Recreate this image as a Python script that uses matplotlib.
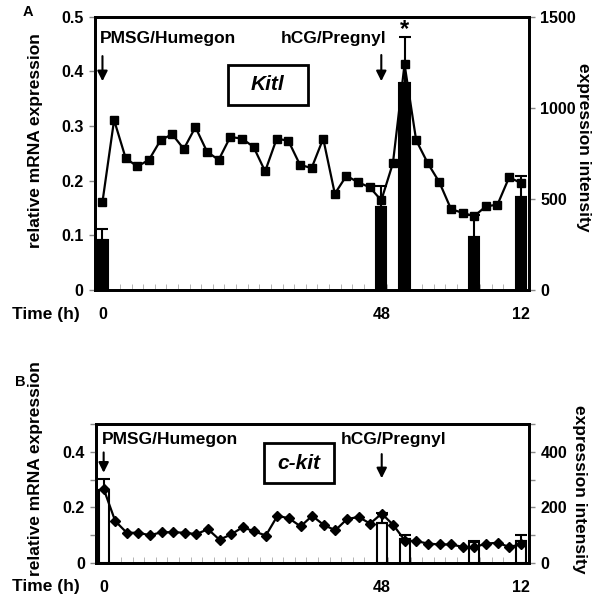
import numpy as np
import matplotlib
matplotlib.use('Agg')
import matplotlib.pyplot as plt
from matplotlib.patches import Rectangle

plt.rcParams['font.family'] = ['Liberation Sans', 'DejaVu Sans']
plt.rcParams['font.weight'] = 'bold'

# 37 sampling points: every 2 h up to 48 h (PMSG), then hourly for 12 h (hCG)
n_points = 37
tick_pos = [0, 24, 36]
tick_labels = ['0', '48', '12']

# panel A, Kitl
kitl_rel = [0.161, 0.311, 0.241, 0.226, 0.238, 0.274, 0.285, 0.258, 0.298, 0.253,
            0.238, 0.280, 0.277, 0.262, 0.217, 0.277, 0.273, 0.229, 0.223, 0.277,
            0.176, 0.209, 0.197, 0.188, 0.164, 0.232, 0.413, 0.274, 0.232, 0.197,
            0.148, 0.141, 0.135, 0.153, 0.156, 0.206, 0.196]
kitl_bar_idx = [0, 24, 26, 32, 36]
kitl_bar_val = [272, 456, 1135, 290, 508]
kitl_bar_err = [60, 112, 256, 120, 118]

# panel B, c-kit
ckit_rel = [0.267, 0.151, 0.109, 0.109, 0.100, 0.111, 0.111, 0.109, 0.104, 0.122,
            0.084, 0.103, 0.129, 0.114, 0.099, 0.170, 0.161, 0.132, 0.170, 0.137,
            0.118, 0.158, 0.166, 0.142, 0.178, 0.137, 0.081, 0.079, 0.070, 0.067,
            0.067, 0.058, 0.057, 0.070, 0.073, 0.058, 0.067]
ckit_bar_idx = [0, 24, 26, 32, 36]
ckit_bar_val = [264, 145, 85, 76, 81]
ckit_bar_err = [38, 35, 16, 4, 20]

x = np.arange(n_points)

fig = plt.figure(figsize=(6.0, 5.99), dpi=100)
TICK_FS = 11.5
LAB_FS = 12.5


def make_panel(rect, rel, bar_idx, bar_val, bar_err, filled, marker, ms,
               rticks, rlabels, lticks, llabels):
    ax2 = fig.add_axes(rect)           # right axis, bars (behind)
    ax = ax2.twinx()                   # line on top
    ax.yaxis.tick_left()
    ax2.yaxis.tick_right()
    ax.patch.set_visible(False)

    fc = 'black' if filled else 'white'
    ax2.bar(bar_idx, bar_val, width=0.88, color=fc, edgecolor='black', linewidth=1.5,
            zorder=2)
    ax2.errorbar(bar_idx, bar_val, yerr=[np.zeros(len(bar_err)), bar_err], fmt='none',
                 ecolor='black', elinewidth=1.5, capsize=4, capthick=1.5, zorder=3)
    ax.plot(x, rel, color='black', lw=1.6, marker=marker, ms=ms, mfc='black',
            mec='black', zorder=4)

    for a in (ax, ax2):
        a.set_xlim(-0.66, 36.73)
        for s in a.spines.values():
            s.set_linewidth(2)
    ax.set_ylim(0, 0.5)
    ax2.set_ylim(0, rticks[-1])

    ax.set_yticks(lticks)
    ax.set_yticklabels(llabels)
    ax.tick_params(axis='y', direction='out', length=4, width=1, labelsize=TICK_FS,
                   left=True, right=False, labelleft=True, labelright=False, pad=4,
                   color='#888888')
    ax2.set_yticks(rticks)
    ax2.set_yticklabels(rlabels)
    ax2.tick_params(axis='y', direction='out', length=4, width=1, labelsize=TICK_FS,
                    right=True, left=False, labelright=True, labelleft=False, pad=4,
                    color='#888888')

    ax2.set_xticks(tick_pos)
    ax2.set_xticklabels(tick_labels)
    ax2.set_xticks(np.arange(0.5, 36, 1), minor=True)
    ax2.tick_params(axis='x', which='major', length=0, labelsize=TICK_FS, pad=12)
    ax2.tick_params(axis='x', which='minor', direction='in', length=4, width=0.6,
                    color='#aaaaaa')
    return ax, ax2


def gene_box(ax, x0, x1, y0, y1, name):
    ax.add_patch(Rectangle((x0, y0), x1 - x0, y1 - y0, transform=ax.transAxes,
                           fc='white', ec='black', lw=2, zorder=5))
    ax.text((x0 + x1) / 2, (y0 + y1) / 2, name, transform=ax.transAxes, fontsize=15,
            style='italic', ha='center', va='center', zorder=6)


def arrow(ax, xi, y_tail, y_tip):
    ax.annotate('', xy=(xi, y_tip), xytext=(xi, y_tail),
                arrowprops=dict(arrowstyle='-|>', color='black', lw=1.5,
                                mutation_scale=15, shrinkA=0, shrinkB=0))


# ---- panel A
axA, axA2 = make_panel([0.158, 0.516, 0.724, 0.456], kitl_rel, kitl_bar_idx,
                       kitl_bar_val, kitl_bar_err, True, 's', 6,
                       [0, 500, 1000, 1500], ['0', '500', '1000', '1500'],
                       [0, 0.1, 0.2, 0.3, 0.4, 0.5], ['0', '0.1', '0.2', '0.3', '0.4', '0.5'])
axA.text(0.012, 0.919, 'PMSG/Humegon', transform=axA.transAxes, fontsize=12.5,
         va='center', ha='left')
axA.text(0.429, 0.919, 'hCG/Pregnyl', transform=axA.transAxes, fontsize=12.5,
         va='center', ha='left')
arrow(axA, 0, 0.428, 0.382)
arrow(axA, 24, 0.430, 0.382)
gene_box(axA, 0.306, 0.491, 0.678, 0.824, 'Kitl')
axA.text(26, 0.476, '*', fontsize=17, ha='center', va='center')

fig.text(28 / 600, 1 - 12 / 599, 'A', fontsize=10.5, ha='center', va='center')
fig.text(12 / 600, 1 - 314 / 599, 'Time (h)', fontsize=12.5, ha='left', va='center')
fig.text(36 / 600, 1 - 141 / 599, 'relative mRNA expression', rotation=90,
         fontsize=LAB_FS, ha='center', va='center')
fig.text(583 / 600, 1 - 147 / 599, 'expression intensity', rotation=270,
         fontsize=LAB_FS, ha='center', va='center')

# ---- panel B
axB, axB2 = make_panel([0.16, 0.06, 0.722, 0.232], ckit_rel, ckit_bar_idx,
                       ckit_bar_val, ckit_bar_err, False, 'D', 5.5,
                       [0, 100, 200, 300, 400, 500], ['0', '', '200', '', '400', ''],
                       [0, 0.1, 0.2, 0.3, 0.4, 0.5], ['0', '', '0.2', '', '0.4', ''])
axB.text(0.014, 0.89, 'PMSG/Humegon', transform=axB.transAxes, fontsize=12.5,
         va='center', ha='left')
axB.text(0.564, 0.89, 'hCG/Pregnyl', transform=axB.transAxes, fontsize=12.5,
         va='center', ha='left')
arrow(axB, 0, 0.398, 0.325)
arrow(axB, 24, 0.392, 0.305)
gene_box(axB, 0.388, 0.55, 0.576, 0.863, 'c-kit')

fig.text(20 / 600, 1 - 382 / 599, 'B', fontsize=10.5, ha='center', va='center')
fig.text(12 / 600, 1 - 586 / 599, 'Time (h)', fontsize=12.5, ha='left', va='center')
fig.text(36 / 600, 1 - 469 / 599, 'relative mRNA expression', rotation=90,
         fontsize=LAB_FS, ha='center', va='center')
fig.text(580 / 600, 1 - 489 / 599, 'expression intensity', rotation=270,
         fontsize=LAB_FS, ha='center', va='center')

fig.savefig('out.png', dpi=100)
